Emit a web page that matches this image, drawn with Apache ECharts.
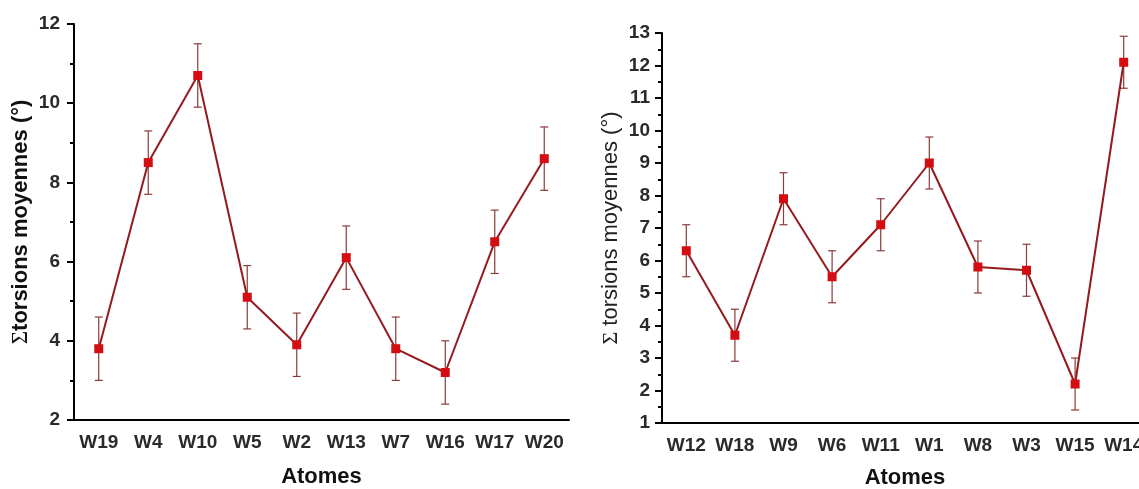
<!DOCTYPE html>
<html><head><meta charset="utf-8">
<script src="https://cdn.jsdelivr.net/npm/echarts@6/dist/echarts.min.js"></script>
<style>html,body{margin:0;padding:0;background:#fff}#c{width:1139px;height:489px}</style>
</head><body><div id="c"></div>
<script>
const leftCategories = ['W19','W4','W10','W5','W2','W13','W7','W16','W17','W20'];
const leftValues = [3.8, 8.5, 10.7, 5.1, 3.9, 6.1, 3.8, 3.2, 6.5, 8.6];
const leftErrors = [0.8, 0.8, 0.8, 0.8, 0.8, 0.8, 0.8, 0.8, 0.8, 0.8];
const rightCategories = ['W12','W18','W9','W6','W11','W1','W8','W3','W15','W14'];
const rightValues = [6.3, 3.7, 7.9, 5.5, 7.1, 9.0, 5.8, 5.7, 2.2, 12.1];
const rightErrors = [0.8, 0.8, 0.8, 0.8, 0.8, 0.8, 0.8, 0.8, 0.8, 0.8];
const xTitle = 'Atomes';
const leftYTitle = '{s|Σ}torsions moyennes (°)';
const rightYTitle = '{s|Σ} torsions moyennes (°)';

const chart = echarts.init(document.getElementById('c'), null, {renderer: 'canvas'});
const lineColor = '#951a1e';
const markColor = '#d40d12';
const errColor = '#8a3a3a';
const FONT = 'Liberation Sans, Arial, sans-serif';
const SERIF = 'Liberation Serif, Times New Roman, serif';

function errSeries(idx, vals, errs) {
  return {
    type: 'custom', xAxisIndex: idx, yAxisIndex: idx, z: 1,
    data: vals.map((v, i) => [i, v - errs[i], v + errs[i]]),
    renderItem: function (params, api) {
      const lo = api.coord([api.value(0), api.value(1)]);
      const hi = api.coord([api.value(0), api.value(2)]);
      const w = 4;
      const st = {stroke: errColor, lineWidth: 1.2};
      return {type: 'group', children: [
        {type: 'line', shape: {x1: hi[0], y1: hi[1], x2: lo[0], y2: lo[1]}, style: st},
        {type: 'line', shape: {x1: hi[0]-w, y1: hi[1], x2: hi[0]+w, y2: hi[1]}, style: st},
        {type: 'line', shape: {x1: lo[0]-w, y1: lo[1], x2: lo[0]+w, y2: lo[1]}, style: st}
      ]};
    }
  };
}
function lineSeries(idx, vals) {
  return {
    type: 'line', xAxisIndex: idx, yAxisIndex: idx, z: 3, data: vals,
    symbol: 'rect', symbolSize: 9, showAllSymbol: true,
    lineStyle: {color: lineColor, width: 2},
    itemStyle: {color: markColor, borderWidth: 0}
  };
}
const axisLine = {show: true, lineStyle: {color: '#000', width: 2}};
const labelStyle = {color: '#2a2a2a', fontSize: 19, fontWeight: 'bold', fontFamily: FONT};
const xName = {color: '#111', fontSize: 22, fontWeight: 'bold', fontFamily: FONT};

chart.setOption({
  animation: false,
  grid: [
    {left: 74, top: 24, width: 495, height: 396, outerBoundsMode: 'none', containLabel: false},
    {left: 662, top: 33, width: 486, height: 390, outerBoundsMode: 'none', containLabel: false}
  ],
  xAxis: [
    {type: 'category', gridIndex: 0, data: leftCategories, boundaryGap: true,
     axisLine: axisLine, axisTick: {alignWithLabel: true, length: 7, lineStyle: {color: '#000', width: 2}},
     axisLabel: Object.assign({margin: 13, interval: 0}, labelStyle),
     name: xTitle, nameLocation: 'middle', nameGap: 46, nameTextStyle: xName},
    {type: 'category', gridIndex: 1, data: rightCategories, boundaryGap: true,
     axisLine: axisLine, axisTick: {alignWithLabel: true, length: 7, lineStyle: {color: '#000', width: 2}},
     axisLabel: Object.assign({margin: 13, interval: 0}, labelStyle),
     name: xTitle, nameLocation: 'middle', nameGap: 44, nameTextStyle: xName}
  ],
  yAxis: [
    {type: 'value', gridIndex: 0, min: 2, max: 12, interval: 2,
     axisLine: axisLine, splitLine: {show: false},
     axisTick: {show: true, length: 7, lineStyle: {color: '#000', width: 2}},
     minorTick: {show: true, splitNumber: 2, length: 4, lineStyle: {color: '#000', width: 2}},
     axisLabel: Object.assign({margin: 14}, labelStyle),
     name: leftYTitle, nameLocation: 'middle', nameGap: 42, nameRotate: 90,
     nameTextStyle: {color: '#111', fontSize: 22, fontWeight: 'bold', fontFamily: FONT,
       rich: {s: {fontFamily: SERIF, fontSize: 23, fontWeight: 'normal', color: '#111'}}}},
    {type: 'value', gridIndex: 1, min: 1, max: 13, interval: 1,
     axisLine: axisLine, splitLine: {show: false},
     axisTick: {show: true, length: 7, lineStyle: {color: '#000', width: 2}},
     minorTick: {show: true, splitNumber: 2, length: 4, lineStyle: {color: '#000', width: 2}},
     axisLabel: Object.assign({margin: 12}, labelStyle),
     name: rightYTitle, nameLocation: 'middle', nameGap: 40, nameRotate: 90,
     nameTextStyle: {color: '#222', fontSize: 22, fontWeight: 'normal', fontFamily: FONT,
       rich: {s: {fontFamily: SERIF, fontSize: 22, color: '#222'}}}}
  ],
  series: [
    errSeries(0, leftValues, leftErrors),
    lineSeries(0, leftValues),
    errSeries(1, rightValues, rightErrors),
    lineSeries(1, rightValues)
  ]
});
</script>
</body></html>
